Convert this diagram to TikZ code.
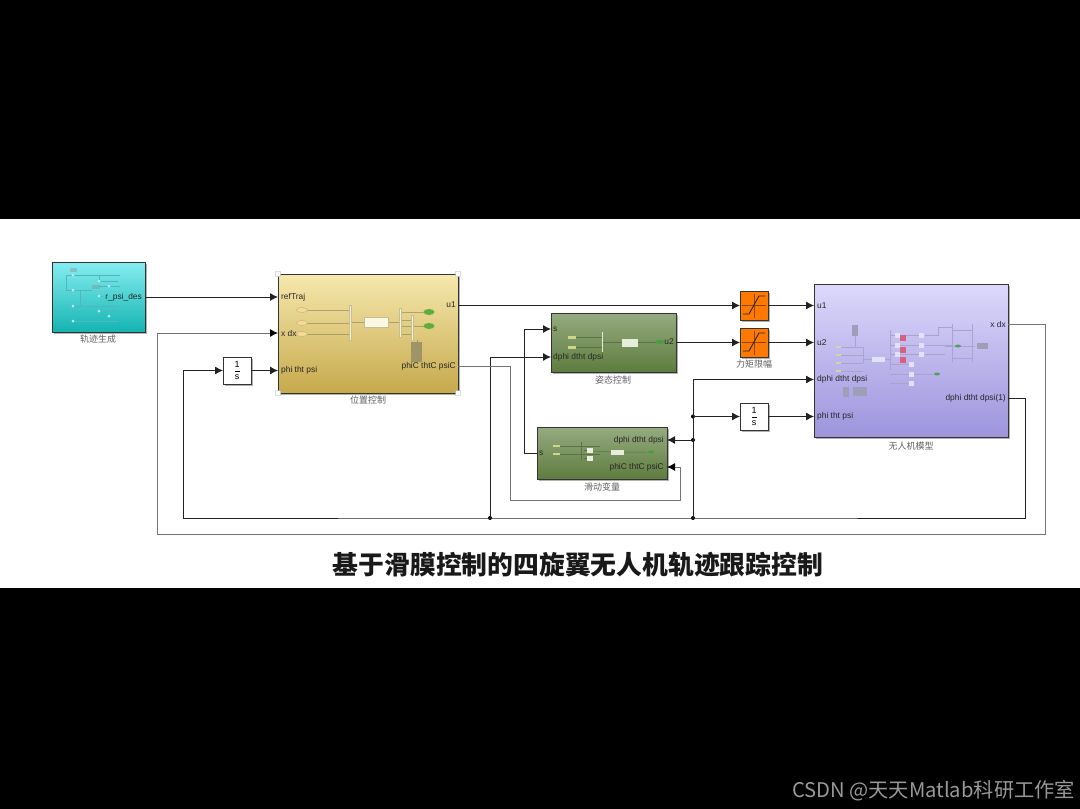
\documentclass[tikz,border=0pt]{standalone}
\usepackage{fontspec}
\setmainfont{Liberation Sans}
\newfontfamily\cjk{Noto Sans CJK SC}
\usetikzlibrary{arrows.meta,shadows,calc}
\definecolor{wirek}{HTML}{222222}
\definecolor{loopg}{HTML}{747474}
\definecolor{trajT}{HTML}{86EDF0}
\definecolor{trajM}{HTML}{5FDADB}
\definecolor{trajB}{HTML}{14B4B2}
\definecolor{trajL}{HTML}{4DB8BD}
\definecolor{posT}{HTML}{F6E9AE}
\definecolor{posM}{HTML}{EEDD9A}
\definecolor{posB}{HTML}{C6A94C}
\definecolor{grnT}{HTML}{95AB80}
\definecolor{grnM}{HTML}{BACB9E}
\definecolor{grnB}{HTML}{5E7C3E}
\definecolor{chipG}{HTML}{CBD68A}
\definecolor{lineG}{HTML}{5C7245}
\definecolor{uavT}{HTML}{DCD8FC}
\definecolor{uavM}{HTML}{D0CBF8}
\definecolor{uavB}{HTML}{9D94DC}
\definecolor{thumbU}{HTML}{A8A4CE}
\definecolor{thumbG}{HTML}{9F9EB8}
\definecolor{chipU}{HTML}{D8D2A8}
\definecolor{redU}{HTML}{D9607A}
\tikzset{
 blk/.style={draw=black!80,line width=.9pt,anchor=north west,inner sep=0pt,outer sep=0pt,
   drop shadow={shadow xshift=1.6pt,shadow yshift=-1.6pt,fill=black,opacity=.3}},
 wire/.style={draw=wirek,line width=.9pt,-{Latex[length=8pt,width=8pt]}},
 wireplain/.style={draw=wirek,line width=.9pt},
 loopwire/.style={draw=loopg,line width=.9pt},
 loopgrey/.style={loopwire,-{Latex[length=8pt,width=8pt,color=black]}},
 jdot/.style={circle,fill=black,inner sep=0pt,minimum size=4pt},
 portlbl/.style={font=\fontsize{8.4}{9}\selectfont,inner sep=0pt,text=black!85},
 portL/.style={portlbl,anchor=west},
 portR/.style={portlbl,anchor=east},
 captxt/.style={font=\cjk\fontsize{9}{10}\selectfont,text=black!62,inner sep=0pt},
 handlebox/.style={draw=black!35,fill=white,minimum size=5pt,inner sep=0pt,rounded corners=.5pt},
 thinln/.style={line width=.5pt},
}
\begin{document}
\begin{tikzpicture}[x=1pt,y=-1pt]
\useasboundingbox (0,0) rectangle (1080,809);
\fill[black] (0,0) rectangle (1080,809);
\fill[white] (0,219) rectangle (1080,588);

% ---------- blocks
\node[blk,minimum width=93pt,minimum height=70pt,top color=trajT,middle color=trajM,bottom color=trajB] (traj) at (52,262) {};
\node[blk,minimum width=180pt,minimum height=119pt,top color=posT,middle color=posM,bottom color=posB] (pos) at (278,274) {};
\node[blk,minimum width=125pt,minimum height=59pt,top color=grnT,middle color=grnM,bottom color=grnB] (att) at (551,313) {};
\node[blk,minimum width=130pt,minimum height=52pt,top color=grnT,middle color=grnM,bottom color=grnB] (slide) at (537,427) {};
\node[blk,minimum width=194pt,minimum height=153pt,top color=uavT,middle color=uavM,bottom color=uavB] (uav) at (814,284) {};
\node[blk,fill=orange!95!red,minimum width=28pt,minimum height=29pt] (sat1) at (740,291) {};
\node[blk,fill=orange!95!red,minimum width=28pt,minimum height=29pt] (sat2) at (740,328) {};
\node[blk,fill=white,minimum width=28pt,minimum height=27pt] (intL) at (223,357) {\fontsize{9}{10}\selectfont$\displaystyle\frac{\mathrm{1}}{\mathrm{s}}$};
\node[blk,fill=white,minimum width=28pt,minimum height=27pt] (intR) at (740,403) {\fontsize{9}{10}\selectfont$\displaystyle\frac{\mathrm{1}}{\mathrm{s}}$};

% saturation icons
\foreach \s in {sat1,sat2}{
 \draw[black!45!orange,line width=.35pt] ($(\s.center)+(-12,0)$) -- ($(\s.center)+(12,0)$);
 \draw[black!45!orange,line width=.35pt] ($(\s.center)+(0,-12)$) -- ($(\s.center)+(0,12)$);
 \draw[black!85,line width=.9pt] ($(\s.center)+(-11,8.5)$) -- ($(\s.center)+(-5,8.5)$) -- ($(\s.center)+(5,-9.5)$) -- ($(\s.center)+(11,-9.5)$);
}

% handles
\foreach \a in {north west,north east,south west,south east}
 \node[handlebox] at (pos.\a) {};

% ---------- thumbnails: trajectory
\begin{scope}[draw=trajL,line width=.3pt]
 \draw (66,275) -- (120,275) (66,275) -- (66,290) -- (73,290) (99,275) -- (99,281) -- (118,281) (99,286) -- (120,286);
 \draw (73,290) -- (92,290) (80,290) -- (80,306) (73,306) -- (118,306) (73,321) -- (118,321) (99,296) -- (103,296) (99,311) -- (118,311);
\end{scope}
\fill[black!45,opacity=.4] (70,268) rectangle (77,272);
\fill[black!45,opacity=.4] (92,285) rectangle (100,289);
\foreach \p in {(73,275),(99,281),(109,286),(73,290),(99,296),(73,306),(99,311),(109,316),(73,321)}
 \fill[white!75!cyan] \p circle (1.5pt);

% thumbnails: position
\begin{scope}[draw=black!60!yellow,thinln,opacity=.5]
 \draw (307,310) -- (349,310) (307,323) -- (349,323) (307,334) -- (349,334);
 \draw (350,322) -- (364,322) (388,322) -- (400,322);
 \draw (400,312) -- (424,312) (400,320) -- (412,320) (400,326) -- (412,326) (400,334) -- (412,334) (413,326) -- (424,326);
 \draw (417,340) -- (417,342);
\end{scope}
\foreach \y in {310,323,334}
 \draw[draw=yellow!45!black!60,fill=posT!85!orange,line width=.4pt] (302,\y) ellipse (5.5pt and 2.5pt);
\fill[posT!60!white,draw=yellow!45!black!50,line width=.25pt] (349,305) rectangle (351,340);
\fill[posT!60!white,draw=yellow!45!black!50,line width=.25pt] (399,308) rectangle (401,337);
\fill[posT!60!white,draw=yellow!45!black!50,line width=.25pt] (411,315) rectangle (413,340);
\fill[posT!35!white,draw=yellow!45!black!50,line width=.25pt] (364,317) rectangle (388,327);
\fill[green!55!black!60!posM] (429,312) ellipse (5.5pt and 3pt);
\fill[green!55!black!60!posM] (429,326) ellipse (5.5pt and 3pt);
\fill[black!33!posM] (411,342) rectangle (422,362);

% thumbnails: attitude
\draw[lineG,thinln] (572,337) -- (602,337) (572,347) -- (602,347) (603,342) -- (622,342) (638,342) -- (656,342);
\fill[chipG] (568,336) rectangle (576,338.5);
\fill[chipG] (568,346) rectangle (576,348.5);
\fill[grnM!40!white] (601.5,332) rectangle (603,352);
\fill[grnM!35!white] (622,339) rectangle (638,346.5);
\fill[green!50!black!60!grnM] (660,342) ellipse (4.5pt and 2.2pt);

% thumbnails: sliding variable
\draw[lineG,thinln] (553,446) -- (600,446) (553,454) -- (600,454) (581,442) -- (581,460) (584,450) -- (587,450) (584,458) -- (587,458);
\draw[lineG,thinln] (593,451) -- (611,452) (624,452) -- (647,452);
\fill[chipG] (553,445) rectangle (560,447);
\fill[chipG] (553,453) rectangle (560,455);
\fill[grnM!30!white] (587,447.5) rectangle (593,453);
\fill[grnM!30!white] (587,455.5) rectangle (593,461);
\fill[grnM!35!white] (611,450) rectangle (624,455);
\fill[green!50!black!60!grnM] (651,452) ellipse (3.2pt and 1.6pt);

% thumbnails: UAV
\begin{scope}[line width=.4pt]
 \draw[thumbU] (855,336) -- (855,347);
 \draw[thumbU] (840,347) -- (863,347) (840,355) -- (863,355) (840,363) -- (863,363) (840,371) -- (863,371) (863,347) -- (863,363);
 \draw[thumbU] (864,359) -- (872,359) (885,359) -- (890,359);
 \draw[thumbU] (890,330) -- (890,370) (890,335) -- (921,335) (890,345) -- (921,345) (890,354) -- (921,354) (890,364) -- (911,364) (890,374) -- (933,374) (890,383) -- (911,383);
 \draw[thumbU] (925,335) -- (938,335) -- (938,327) -- (952,327) (925,345) -- (952,345) (925,354) -- (945,354) (945,346) -- (955,346);
 \draw[thumbU] (952,324) -- (952,362) (972,324) -- (972,362) (952,330) -- (972,330) (952,346) -- (972,346) (952,358) -- (972,358) (964,346) -- (975,346);
\end{scope}
\fill[thumbG] (852,325) rectangle (858,336);
\foreach \y in {347,355,363,371}
 \fill[chipU] (836,\y-1) rectangle (841,\y+1);
\fill[white!88!blue] (872,357) rectangle (885,362);
\foreach \x/\y in {897/335,897/345,897/354,921/335,921/345,921/354,911/364,911/374,911/383}
 \fill[white!88!blue] (\x-2.5,\y-2.5) rectangle (\x+2.5,\y+2.5);
\foreach \y in {338,350,360}
 \fill[redU] (900,\y-3) rectangle (906,\y+3);
\fill[green!50!black!60!uavM] (937,374) ellipse (3pt and 1.5pt);
\fill[green!50!black!60!uavM] (958,346) ellipse (3pt and 1.5pt);
\fill[thumbG] (977,343) rectangle (988,349);
\fill[thumbG] (843,387) rectangle (849,397);
\fill[thumbG] (853,387) rectangle (867,396);

% ---------- port labels
\node[portR] (lTraj) at (142,297) {r\_psi\_des};
\node[portL] (lRef) at (281,297) {refTraj};
\node[portL] (lXdx) at (281,333) {x dx};
\node[portL] (lPhi) at (281,370) {phi tht psi};
\node[portR] (lU1) at (456,305) {u1};
\node[portR] (lPhiC) at (456,366) {phiC thtC psiC};
\node[portL] (lS) at (553,329) {s};
\node[portL] (lD) at (553,357) {dphi dtht dpsi};
\node[portR] (lU2) at (674,342) {u2};
\node[portL] (lS2) at (539,453.5) {s};
\node[portR] (lD2) at (664,440) {dphi dtht dpsi};
\node[portR] (lPhiC2) at (664,467) {phiC thtC psiC};
\node[portL] (uU1) at (817,305.5) {u1};
\node[portL] (uU2) at (817,342.5) {u2};
\node[portL] (uD) at (817,379.5) {dphi dtht dpsi};
\node[portL] (uP) at (817,416.5) {phi tht psi};
\node[portR] (uX) at (1006,324) {x dx};
\node[portR] (uD1) at (1006,398) {dphi dtht dpsi(1)};

% ---------- captions
\node[captxt] (c1) at (98,339) {轨迹生成};
\node[captxt] (c2) at (368,400.5) {位置控制};
\node[captxt] (c3) at (613,380) {姿态控制};
\node[captxt] (c4) at (602,487) {滑动变量};
\node[captxt] (c5) at (754,364) {力矩限幅};
\node[captxt] (c6) at (911,446) {无人机模型};

% ---------- junctions
\node[jdot] (j1) at (490,518) {};
\node[jdot] (j2) at (693,518) {};
\node[jdot] (j3) at (693,440) {};
\node[jdot] (j4) at (693,416.5) {};
\coordinate (fbR) at (1025,518);
\coordinate (fbL) at (183,518);
\coordinate (sBus) at (524,453.5);

% ---------- connectors
\draw[wire] (traj.east |- 0,297) -- (pos.west |- 0,297);
\draw[wire] (pos.east |- 0,305.5) -- (sat1.west);
\draw[wire] (sat1.east) -- (uav.west |- sat1.east);
\draw[wire] (att.east |- sat2.west) -- (sat2.west);
\draw[wire] (sat2.east) -- (uav.west |- sat2.east);
\draw[wire] (intL.east) -- (pos.west |- intL.east);
\draw[wire] (intR.east) -- (uav.west |- intR.east);
\draw[wire] (j4.center) -- (intR.west);
\draw[wire] (j3.center) -- (slide.east |- j3);
\draw[wire] (j2.center) -- (693,379.5) -- (uav.west |- 0,379.5);
\draw[wire] (j1.center) -- (490,357) -- (att.west |- 0,357);
\draw[wire] (slide.west |- sBus) -- (sBus) -- (524,329) -- (att.west |- 0,329);
\draw[wireplain] (uav.east |- 0,398) -- (1025,398) -- (fbR) -- (j2.center) -- (j1.center) -- (fbL);
\draw[wire] (fbL) -- (fbL |- intL.west) -- (intL.west);
\draw[loopgrey] (pos.east |- 0,366) -- (510,366) -- (510,500) -- (680,500) -- (680,467) -- (slide.east |- 0,467);
\draw[loopgrey] (uav.east |- 0,324) -- (1045,324) -- (1045,534) -- (157,534) -- (157,333) -- (pos.west |- 0,333);

% ---------- title and watermark
\node[font=\cjk\bfseries\fontsize{25.8}{27}\selectfont,text=black!90,inner sep=0pt] (title) at (578,565) {基于滑膜控制的四旋翼无人机轨迹跟踪控制};
\node[anchor=east,inner sep=0pt,text=black!40,font=\cjk\fontsize{20.2}{22}\selectfont] (mark) at (1075,791) {CSDN @天天Matlab科研工作室};
\end{tikzpicture}
\end{document}
